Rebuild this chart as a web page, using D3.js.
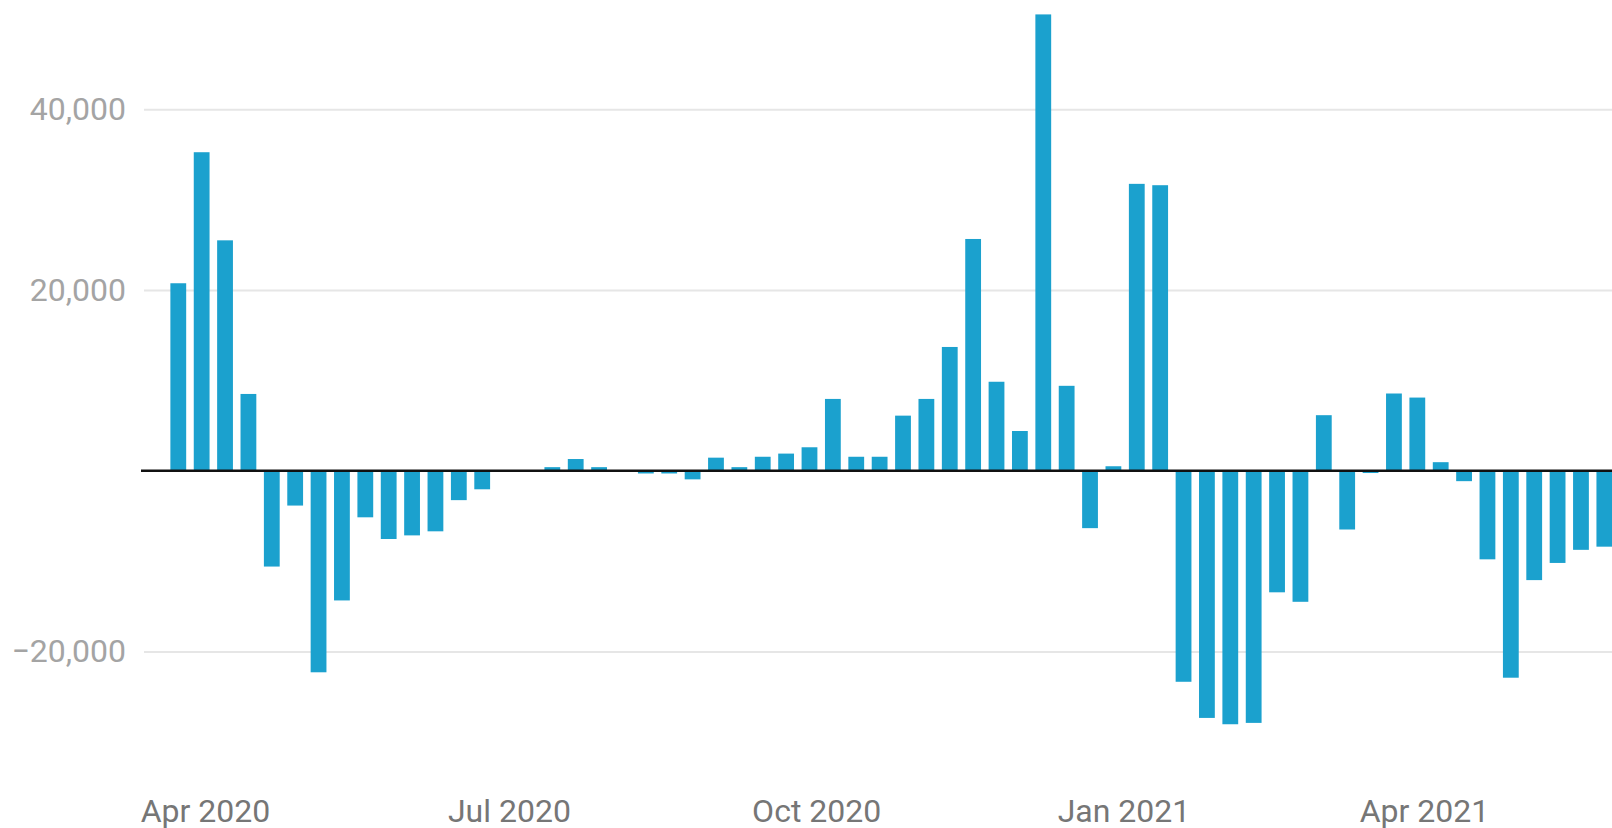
<!DOCTYPE html>
<html>
<head>
<meta charset="utf-8">
<script src="https://cdn.jsdelivr.net/npm/d3@7"></script>
<style>
  html, body { margin: 0; padding: 0; background: #ffffff; }
  svg { display: block; }
  text { font-family: Roboto, "Noto Sans", sans-serif; }
</style>
</head>
<body>
<svg id="chart" width="1612" height="828"></svg>
<script>
// Weekly net change, first week starting 24 Mar 2020
const firstWeek = "2020-03-24";
const weeklyChange = [
  20750, 35250, 25500, 8500, -10600, -3850, -22300, -14350, -5150, -7550,
  -7150, -6700, -3250, -2050, 0, 0, 400, 1300, 400, 0,
  -300, -300, -950, 1450, 400, 1550, 1900, 2600, 7950, 1550,
  1550, 6100, 7950, 13700, 25650, 9850, 4400, 50500, 9400, -6350,
  500, 31750, 31600, -23350, -27350, -28050, -27900, -13450, -14500, 6150,
  -6500, -250, 8550, 8100, 950, -1150, -9800, -22900, -12100, -10200,
  -8750, -8400
];

// Axis ticks
const xTickDates = ["2020-04-01", "2020-07-01", "2020-10-01", "2021-01-01", "2021-04-01"];
const yTickValues = [-20000, 20000, 40000];

const parse = d3.utcParse("%Y-%m-%d");
const start = parse(firstWeek);
const weeks = weeklyChange.map((v, i) => ({ date: d3.utcDay.offset(start, 7 * i), value: v }));

const W = 1612, H = 828;
const plotLeft = 144;
const labelSize = 32;

const svg = d3.select("#chart");

const x = d3.scaleUtc()
  .domain([parse("2020-04-01"), parse("2021-04-01")])
  .range([205, 1424]);

const y = d3.scaleLinear()
  .domain([-20000, 40000])
  .range([651.5, 109.3]);

const barWidth = 15.8;

// Horizontal gridlines
svg.append("g")
  .attr("transform", `translate(${plotLeft},0)`)
  .call(d3.axisLeft(y).tickValues(yTickValues).tickSize(-(W - plotLeft)).tickFormat(""))
  .call(g => g.select(".domain").remove())
  .call(g => g.selectAll(".tick line").attr("stroke", "#e6e6e6").attr("stroke-width", 2));

// Y axis labels
svg.append("g")
  .attr("transform", `translate(${plotLeft},0)`)
  .call(d3.axisLeft(y).tickValues(yTickValues).tickSize(0).tickPadding(18).tickFormat(d3.format(",")))
  .call(g => g.select(".domain").remove())
  .call(g => g.selectAll(".tick text")
    .attr("fill", "#a4a4a4")
    .attr("font-size", labelSize)
    .attr("font-family", "Roboto, sans-serif"));

// Bars
svg.append("g")
  .selectAll("rect")
  .data(weeks.filter(d => d.value !== 0))
  .join("rect")
  .attr("x", d => x(d.date) - barWidth / 2)
  .attr("width", barWidth)
  .attr("y", d => y(Math.max(0, d.value)))
  .attr("height", d => Math.abs(y(d.value) - y(0)))
  .attr("fill", "#1ba1ce");

// Zero baseline
svg.append("line")
  .attr("x1", 141).attr("x2", W)
  .attr("y1", y(0)).attr("y2", y(0))
  .attr("stroke", "#111111")
  .attr("stroke-width", 2.5);

// X axis labels
svg.append("g")
  .attr("transform", "translate(0,821.5)")
  .call(d3.axisBottom(x).tickValues(xTickDates.map(parse)).tickSize(0).tickFormat(d3.utcFormat("%b %Y")))
  .call(g => g.select(".domain").remove())
  .call(g => g.selectAll(".tick text")
    .attr("y", 0).attr("dy", 0)
    .attr("fill", "#767676")
    .attr("font-size", labelSize)
    .attr("font-family", "Roboto, sans-serif"));
</script>
</body>
</html>
